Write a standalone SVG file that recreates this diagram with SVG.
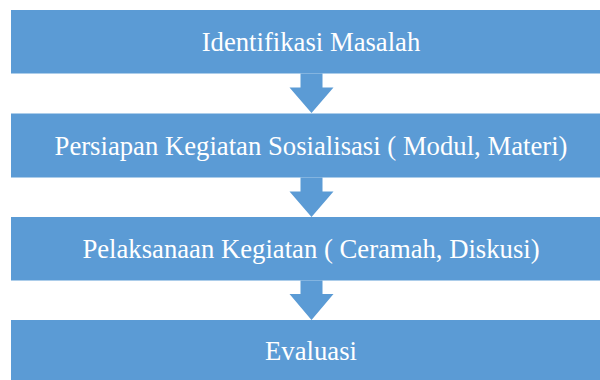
<svg xmlns="http://www.w3.org/2000/svg" width="600" height="380" viewBox="0 0 600 380">
<style>
.box{fill:#5B9BD5}
.arr{fill:#5B9BD5}
.lbl{fill:#ffffff;font-family:"Liberation Serif","Times New Roman",serif;font-size:26.7px;text-anchor:middle}
</style>
<rect width="600" height="380" fill="#ffffff"/>
<g id="connectors">
<polygon class="arr" points="300.5,73.5 322.5,73.5 322.5,87.5 333.5,87.5 311.5,113 289.5,87.5 300.5,87.5"/>
<polygon class="arr" points="300.5,177.5 322.5,177.5 322.5,191.5 333.5,191.5 311.5,217 289.5,191.5 300.5,191.5"/>
<polygon class="arr" points="300.5,280.5 322.5,280.5 322.5,294 333.5,294 311.5,320 289.5,294 300.5,294"/>
</g>
<g id="n1">
<rect class="box" x="11" y="10" width="600" height="63.5"/>
<text class="lbl" x="311" y="50.5">Identifikasi Masalah</text>
</g>
<g id="n2">
<rect class="box" x="11" y="113.5" width="600" height="64"/>
<text class="lbl" x="311" y="155">Persiapan Kegiatan Sosialisasi ( Modul, Materi)</text>
</g>
<g id="n3">
<rect class="box" x="11" y="217" width="600" height="63.5"/>
<text class="lbl" x="311" y="258">Pelaksanaan Kegiatan ( Ceramah, Diskusi)</text>
</g>
<g id="n4">
<rect class="box" x="11" y="320" width="600" height="70"/>
<text class="lbl" x="311" y="360">Evaluasi</text>
</g>
</svg>
